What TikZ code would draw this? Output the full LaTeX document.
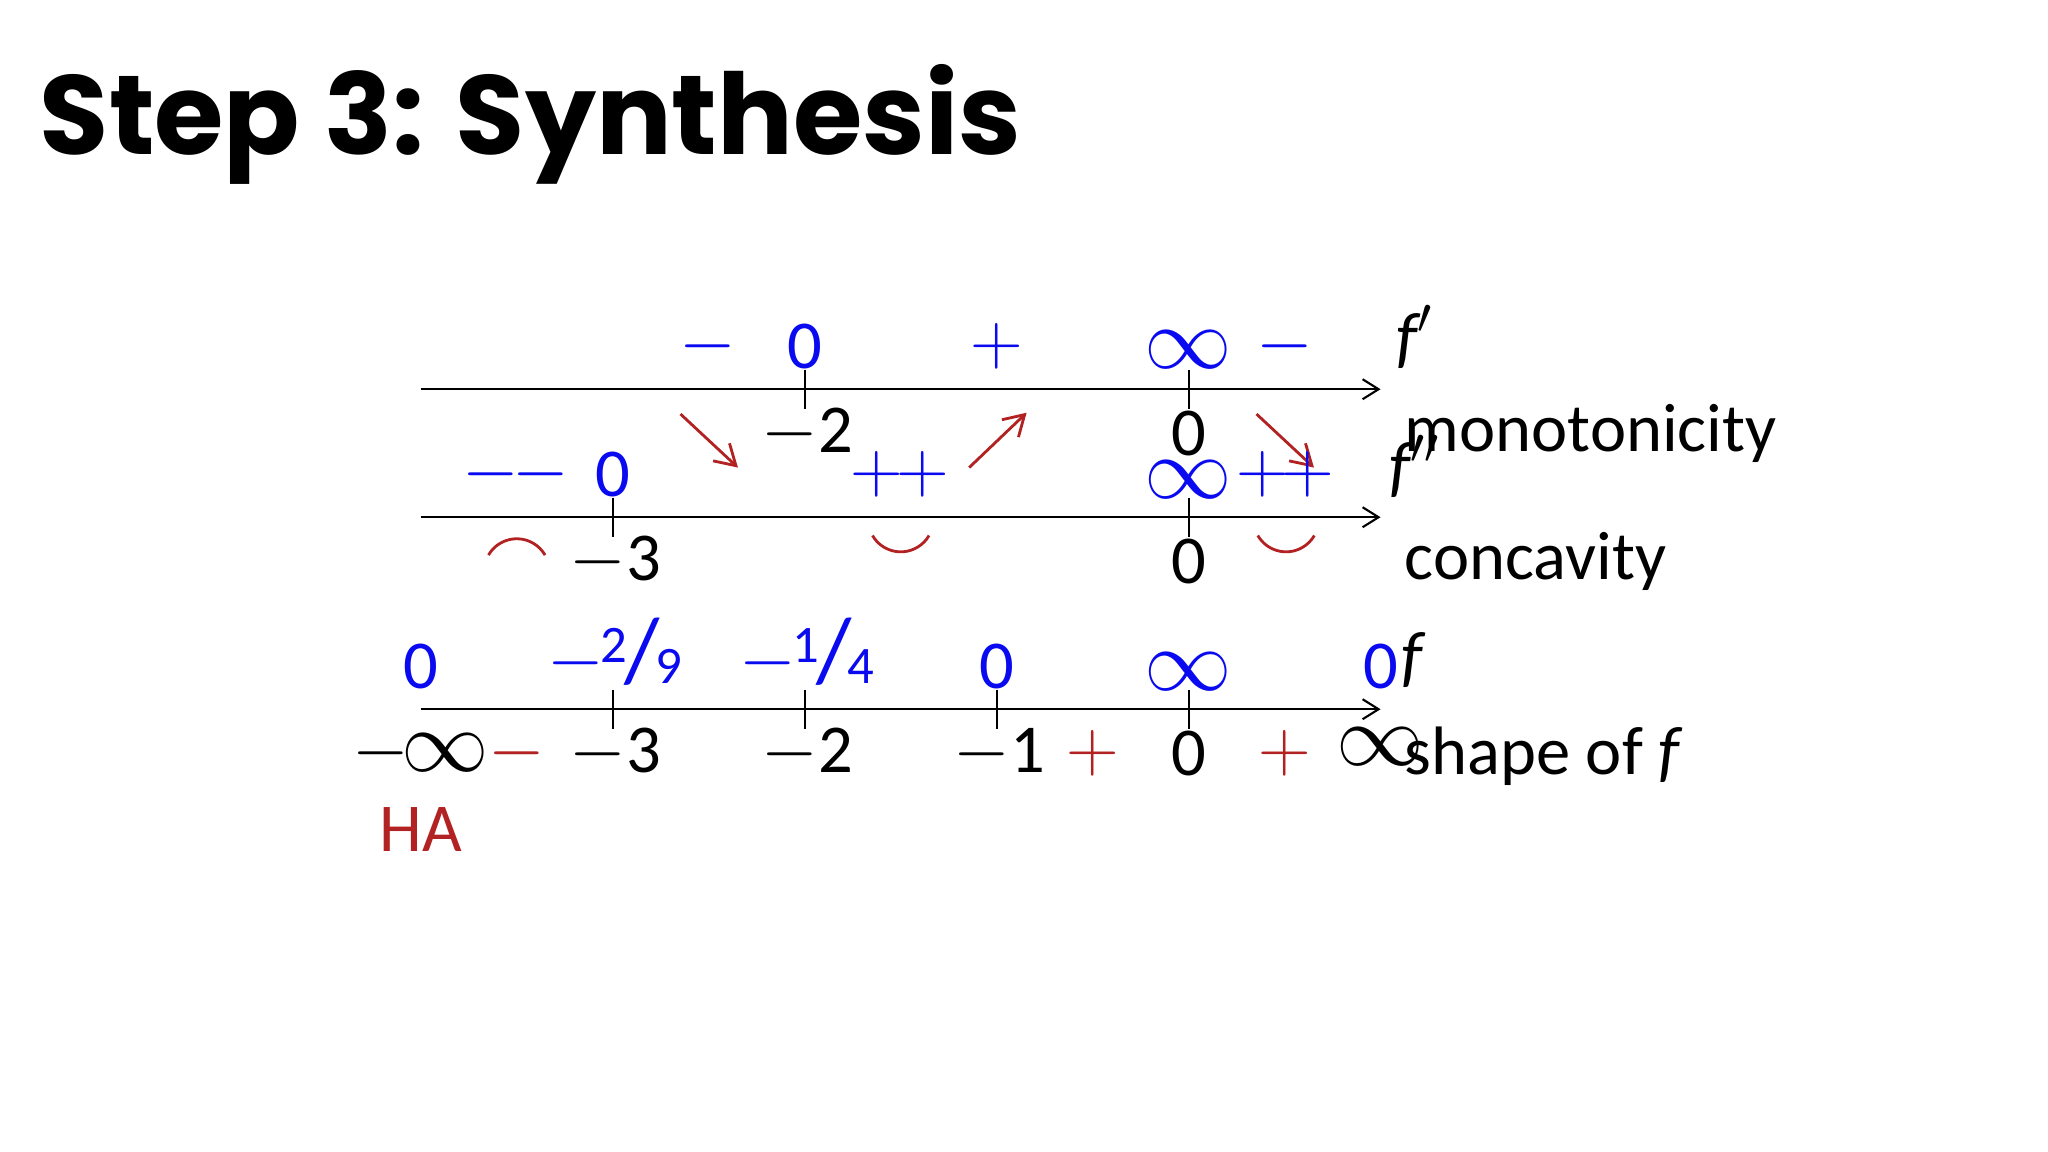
\documentclass[tikz,border=0pt]{standalone}
\usepackage{fontspec}
\setmainfont{Carlito}
\newfontfamily\titlefont{Poppins}
\usetikzlibrary{arrows.meta}
\definecolor{myred}{RGB}{178,34,34}
\definecolor{myblue}{RGB}{10,10,240}
\newcommand{\infy}{{\fontsize{23}{26}\selectfont$\infty$}}
\newcommand{\mn}{$-$}
\newcommand{\pl}{$+$}
\newcommand{\nfrac}[2]{\mn\kern-1pt\raisebox{0.6ex}{\fontsize{15}{16}\selectfont #1}\kern-1pt{\fontsize{26}{28}\selectfont /}\kern-1pt\raisebox{-0.05ex}{\fontsize{15}{16}\selectfont #2}}
\begin{document}
\begin{tikzpicture}[x=0.01306cm,y=-0.01306cm,
  lab/.style={font=\fontsize{19.5}{24}\selectfont, inner sep=0pt},
  bl/.style={lab,text=myblue},
  rd/.style={lab,text=myred},
  axis/.style={-{Straight Barb[length=1.6mm,width=2mm]},line width=0.6pt},
  tick/.style={line width=0.6pt},
  rarr/.style={myred,line width=0.8pt,-{Straight Barb[length=2mm,width=2.4mm]}},
  arc/.style={myred,line width=0.8pt}]
\useasboundingbox (0,0) rectangle (1568,882);
\node[anchor=base west,inner sep=0pt,font=\titlefont\bfseries\fontsize{32}{36}\selectfont] (title) at (30,118) {Step 3: Synthesis};
% axes
\draw[axis] (322,298) coordinate (a1s) -- (1057,298) coordinate (a1e);
\draw[axis] (322,396) coordinate (a2s) -- (1057,396) coordinate (a2e);
\draw[axis] (322,543) coordinate (a3s) -- (1057,543) coordinate (a3e);
\foreach \x in {616,910} \draw[tick] (\x,283) -- (\x,313);
\foreach \x in {469,910} \draw[tick] (\x,381) -- (\x,411);
\foreach \x in {469,616,763,910} \draw[tick] (\x,528) -- (\x,558);
% row 1
\node[bl] (p1) at (542,265) {\mn};
\node[bl] (p2) at (616,265) {0};
\node[bl] (p3) at (763,265) {\pl};
\node[bl] (p4) at (910,268) {\infy};
\node[bl] (p5) at (984,265) {\mn};
\node[lab] (fp) at (1083,258) {\itshape f$'$};
\node[lab] (m2) at (618,332) {\mn2};
\node[lab] (m0) at (910,332) {0};
\node[lab,anchor=west] (mono) at (1075,332) {monotonicity};
\coordinate (r1a) at (521,317); \coordinate (r1b) at (565,358);
\coordinate (r2a) at (742,358); \coordinate (r2b) at (786,316);
\coordinate (r3a) at (962,317); \coordinate (r3b) at (1006,358);
\draw[rarr] (r1a) -- (r1b);
\draw[rarr] (r2a) -- (r2b);
\draw[rarr] (r3a) -- (r3b);
% row 2
\node[bl] (q1) at (395,363) {\mn\kern-2pt\mn};
\node[bl] (q2) at (469,363) {0};
\node[bl] (q3) at (689,363) {\pl\kern-2pt\pl};
\node[bl] (q4) at (910,367) {\infy};
\node[bl] (q5) at (984,363) {\pl\kern-2pt\pl};
\node[lab] (fpp) at (1083,357) {\itshape f$''$};
\node[lab] (c3) at (471,430) {\mn3};
\node[lab] (c0) at (910,430) {0};
\node[lab,anchor=west] (conc) at (1075,430) {concavity};
\draw[arc] (374,425) arc[start angle=210,end angle=330,radius=25];
\draw[arc] (668,410) arc[start angle=150,end angle=30,radius=25];
\draw[arc] (963,410) arc[start angle=150,end angle=30,radius=25];
% row 3
\node[bl] (s1) at (322,510) {0};
\node[bl] (s2) at (471,500) {\nfrac{2}{9}};
\node[bl] (s3) at (618,500) {\nfrac{1}{4}};
\node[bl] (s4) at (763,510) {0};
\node[bl] (s5) at (910,514) {\infy};
\node[bl] (s6) at (1057,510) {0};
\node[lab] (f) at (1081,505) {\itshape f};
\node[lab] (t0) at (322,577) {\mn\kern-2pt\infy};
\node[rd] (t1) at (396,577) {\mn};
\node[lab] (t2) at (471,577) {\mn3};
\node[lab] (t3) at (618,577) {\mn2};
\node[lab] (t4) at (765,577) {\mn1};
\node[rd] (t5) at (837,577) {\pl};
\node[lab] (t6) at (910,577) {0};
\node[rd] (t7) at (984,577) {\pl};
\node[lab] (t8) at (1057,572) {\infy};
\node[lab,anchor=west] (shape) at (1075,579) {shape of \itshape f};
\node[rd] (ha) at (322,635) {HA};
\end{tikzpicture}
\end{document}
